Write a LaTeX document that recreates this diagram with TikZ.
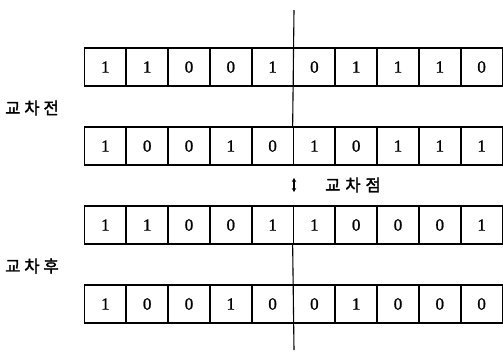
\documentclass[tikz,border=0pt]{standalone}
\usepackage{fontspec}
\setmainfont{Liberation Serif}
\newfontfamily\digits[FakeBold=1.2]{Liberation Serif}
\newfontfamily\kr[FakeBold=2]{Noto Sans CJK KR}
\usetikzlibrary{arrows.meta}
\tikzset{
  cell/.style={draw, line width=1.6pt, minimum width=41.9pt, minimum height=38pt, inner sep=0pt, font=\digits\fontsize{17}{17}\selectfont},
  lbl/.style={font=\kr\fontsize{16.5}{16.5}\selectfont, inner sep=0pt},
  cut/.style={line width=1.1pt}
}
\begin{document}
\begin{tikzpicture}[x=1pt,y=-1pt]
\useasboundingbox (0,0) rectangle (503,360);
\foreach \r/\y/\bits in {1/67/{1,1,0,0,1,0,1,1,1,0},2/146/{1,0,0,1,0,1,0,1,1,1},3/225/{1,1,0,0,1,1,0,0,0,1},4/304/{1,0,0,1,0,0,1,0,0,0}}{
  \foreach \b [count=\c] in \bits {
    \node[cell] (r\r c\c) at ({84.5+41.8*(\c-0.5)},\y) {\b};
  }
}
\coordinate (top) at (294,10);
\coordinate (bot) at (294,350);
\draw[cut] (top) -- (r2c6.north west);
\draw[cut] (r3c6.south west) -- (bot);
\coordinate (ma) at (294,178);
\coordinate (mb) at (294,192);
\draw[line width=1.2pt, {Stealth[length=4pt,width=4.5pt]}-{Stealth[length=4pt,width=4.5pt]}] (ma) -- (mb);
\node[lbl, anchor=west] (xp) at (325,185) {교\hspace{5pt}차\hspace{5pt}점};
\node[lbl, anchor=west] (before) at (5,108) {교\hspace{4pt}차\hspace{4pt}전};
\node[lbl, anchor=west] (after) at (5,266) {교\hspace{4pt}차\hspace{4pt}후};
\end{tikzpicture}
\end{document}
